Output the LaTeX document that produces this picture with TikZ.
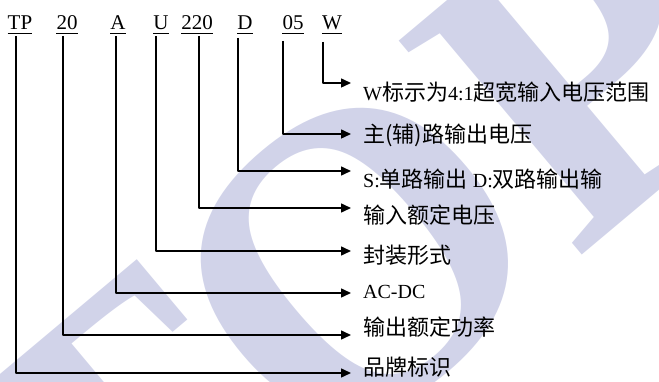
\documentclass[tikz,border=0pt]{standalone}
\usepackage{fontspec}
\setmainfont{Liberation Serif}
\newfontfamily\cjk{Noto Sans CJK SC}
\usetikzlibrary{arrows.meta}

\newcommand\lat[1]{{\rmfamily\fontsize{20}{20}\selectfont #1}}

\begin{document}
\begin{tikzpicture}[x=1pt, y=-1pt, line join=round]

  \def\tipx{351}
  \def\textx{363}

  % Colors and styles
  \definecolor{wmark}{RGB}{209,211,233}
  \tikzset{
    code/.style={font=\fontsize{21}{21}\selectfont, inner sep=0pt, anchor=base},
    code-under/.style={line width=1pt, black},
    code-arrow/.style={line width=1.5pt, black, -{Triangle[length=10pt, width=9pt]}},
    desc/.style={font=\cjk\fontsize{22}{22}\selectfont, anchor=west, inner sep=0pt},
  }

  \useasboundingbox (0,0) rectangle (659,382);

  % Watermark
  \node[text=wmark, rotate=40, font=\bfseries\fontsize{430}{430}\selectfont] (wm) at (450,182) {TOPP};

  % Code letters with underline
  \foreach \name/\x/\txt in {TP/20/TP, N20/67/20, A/118/A, U/161/U, N220/197/220, D/245/D, N05/293/05, W/332/W} {
    \node[code] (c\name) at (\x,30) {\txt};
    \draw[code-under] ([yshift=-3.5pt]c\name.base west) -- ([yshift=-3.5pt]c\name.base east);
  }

  % Leader lines
  \foreach \name/\lx/\ty/\ay in {TP/16/36/373, N20/63/36/335, A/116/36/293, U/156/36/251,
      N220/199/36/208, D/238/38/171, N05/283/41/134, W/323/42/83} {
    \coordinate (t\name) at (\lx,\ty);
    \coordinate (e\name) at (\tipx,\ay);
    \draw[code-arrow] (t\name) |- (e\name);
  }

  % Descriptions
  \node[desc] (dW) at (\textx,92) {\lat{W}标示为\lat{4:1}超宽输入电压范围};
  \node[desc] (dN05) at (\textx,135) {主(辅)路输出电压};
  \node[desc] (dD) at (\textx,179) {\lat{S:}单路输出\lat{ D:}双路输出输};
  \node[desc] (dN220) at (\textx,215) {输入额定电压};
  \node[desc] (dU) at (\textx,255) {封装形式};
  \node[desc] (dA) at (\textx,292) {\lat{AC-DC}};
  \node[desc] (dN20) at (\textx,327) {输出额定功率};
  \node[desc] (dTP) at (\textx,367) {品牌标识};

\end{tikzpicture}
\end{document}
